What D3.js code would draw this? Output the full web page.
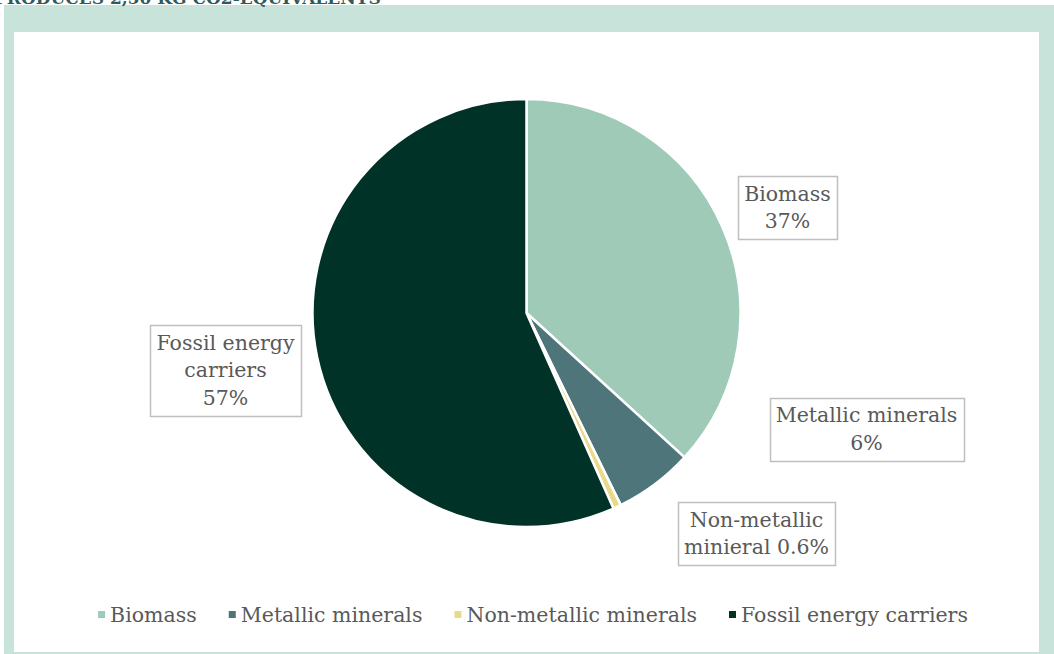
<!DOCTYPE html>
<html><head><meta charset="utf-8">
<script src="https://cdn.jsdelivr.net/npm/d3@7"></script>
<style>body{margin:0;background:#fff}svg{display:block}</style>
</head><body>
<svg id="c" width="1054" height="654"></svg>
<script>
const categories = ["Biomass", "Metallic minerals", "Non-metallic minerals", "Fossil energy carriers"];
const values = [37, 6, 0.6, 57];
const dataLabels = [["Biomass", "37%"], ["Metallic minerals", "6%"], ["Non-metallic", "minieral 0.6%"], ["Fossil energy", "carriers", "57%"]];
const colors = ["#9fcab7", "#4e757a", "#e9d98a", "#003228"];
const titleText = "PRODUCES 2,50 KG CO2-EQUIVALENTS";

// layout (box centers for the data labels)
const labelPos = [[787.5, 207.5], [866.5, 429], [756.5, 533.5], [225.5, 370]];
const FONT = "'DejaVu Serif', Georgia, serif";

const svg = d3.select("#c");
// frame
svg.append("rect").attr("x", 4).attr("y", 5).attr("width", 1050).attr("height", 649).attr("fill", "#c8e3da");
svg.append("rect").attr("x", 14).attr("y", 32).attr("width", 1025).attr("height", 620).attr("fill", "#fff");
// cut-off title
svg.append("text").attr("x", -6).attr("y", 4).attr("font-family", FONT).attr("font-weight", "bold")
  .attr("font-size", 17).attr("fill", "#2e5b5b").text(titleText);

const cx = 526.5, cy = 313, r = 214;
const pie = d3.pie().sort(null).value(d => d.v);
const arcs = pie(categories.map((c, i) => ({c, v: values[i], i})));
const arc = d3.arc().innerRadius(0).outerRadius(r);
const g = svg.append("g").attr("transform", `translate(${cx},${cy})`);
g.selectAll("path").data(arcs).join("path")
  .attr("d", arc).attr("fill", d => colors[d.data.i])
  .attr("stroke", "#fff").attr("stroke-width", 2.5).attr("stroke-linejoin", "round");

// data labels
const fs = 20.5, lh = 27.5;
dataLabels.forEach((lines, i) => {
  const [x, y] = labelPos[i];
  const lg = svg.append("g");
  const t = lg.append("text").attr("font-family", FONT).attr("font-size", fs).attr("fill", "#595959")
    .attr("text-anchor", "middle");
  const n = lines.length;
  lines.forEach((s, k) => {
    t.append("tspan").attr("x", x).attr("y", y + (k - (n - 1) / 2) * lh + fs * 0.35).text(s);
  });
  const bb = t.node().getBBox();
  lg.insert("rect", "text").attr("x", Math.round(bb.x - 6) + 0.5).attr("y", Math.round(y - (n * lh) / 2 - 4) + 0.5)
    .attr("width", Math.round(bb.width + 12)).attr("height", Math.round(n * lh + 8))
    .attr("fill", "#fff").attr("stroke", "#bfbfbf").attr("stroke-width", 1.5);
});

// legend
const leg = svg.append("g");
const items = [];
categories.forEach((c, i) => {
  const it = leg.append("g");
  it.append("rect").attr("x", 0).attr("y", -4).attr("width", 7).attr("height", 7).attr("fill", colors[i]);
  const t = it.append("text").attr("x", 12).attr("y", 0).attr("dy", "0.35em").attr("font-family", FONT)
    .attr("font-size", fs).attr("fill", "#595959").text(c);
  items.push({it, w: 12 + t.node().getComputedTextLength()});
});
const gap = 32;
const total = d3.sum(items, d => d.w) + gap * (items.length - 1);
let x0 = 533 - total / 2;
items.forEach(d => { d.it.attr("transform", `translate(${x0},615)`); x0 += d.w + gap; });
</script>
</body></html>
